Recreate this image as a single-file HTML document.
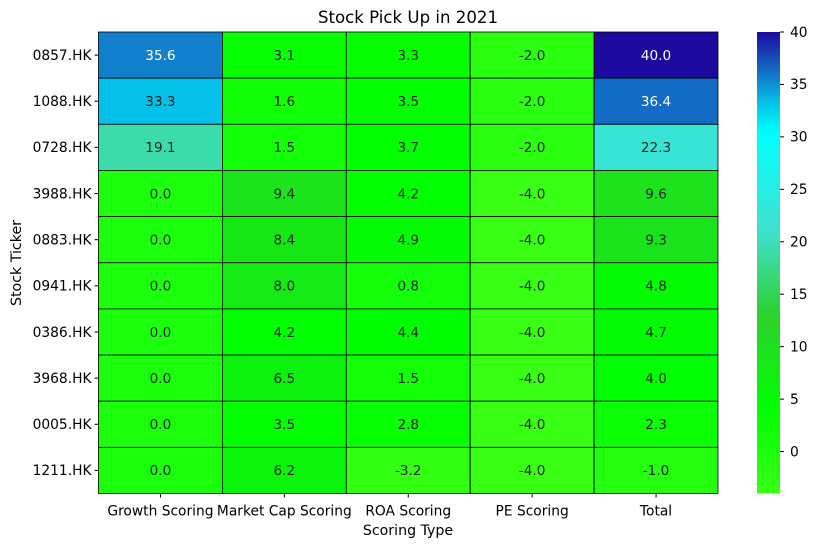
<!DOCTYPE html>
<html><head><meta charset="utf-8"><style>
body{margin:0;background:#fff;font-family:"DejaVu Sans","Liberation Sans",sans-serif;}
svg text{font-family:"DejaVu Sans","Liberation Sans",sans-serif;}
</style></head><body>
<svg id="chart" width="817" height="547" xmlns="http://www.w3.org/2000/svg">
<defs><linearGradient id="cbg" x1="0" y1="1" x2="0" y2="0"></linearGradient></defs>
<text x="408" y="23" text-anchor="middle" font-size="16.6">Stock Pick Up in 2021</text>
<text x="408" y="535" text-anchor="middle" font-size="14.2">Scoring Type</text>
<text transform="translate(21,263) rotate(-90)" text-anchor="middle" font-size="14.2">Stock Ticker</text>
<g id="cells"></g><g id="cbar"></g>
</svg>
<script>
const tickers=["0857.HK","1088.HK","0728.HK","3988.HK","0883.HK","0941.HK","0386.HK","3968.HK","0005.HK","1211.HK"];
const columns=["Growth Scoring","Market Cap Scoring","ROA Scoring","PE Scoring","Total"];
const growth=[35.6,33.3,19.1,0,0,0,0,0,0,0];
const marketCap=[3.1,1.6,1.5,9.4,8.4,8.0,4.2,6.5,3.5,6.2];
const roa=[3.3,3.5,3.7,4.2,4.9,0.8,4.4,1.5,2.8,-3.2];
const pe=[-2,-2,-2,-4,-4,-4,-4,-4,-4,-4];
const total=[40.0,36.4,22.3,9.6,9.3,4.8,4.7,4.0,2.3,-1.0];
const cbTicks=[0,5,10,15,20,25,30,35,40];
const vmin=-4,vmax=40;
const series=[growth,marketCap,roa,pe,total];
const stops=[[-4,[56,255,20]],[0,[28,255,12]],[4,[0,255,0]],[13,[46,208,46]],[21,[64,224,208]],[30.5,[0,255,255]],[33.3,[5,192,232]],[35.6,[16,128,204]],[40,[28,10,158]]];
function color(v){v=Math.max(vmin,Math.min(vmax,v));for(let i=0;i<stops.length-1;i++){const a=stops[i],b=stops[i+1];if(v<=b[0]){const t=(v-a[0])/(b[0]-a[0]);const c=a[1].map((x,k)=>Math.round(x+(b[1][k]-x)*t));return`rgb(${c})`;}}return`rgb(${stops[stops.length-1][1]})`;}
const L=98.5,T=32,W=619.5,H=461.5,cw=W/columns.length,rh=H/tickers.length;
const ns="http://www.w3.org/2000/svg";
function mk(tag,attrs,parent){const e=document.createElementNS(ns,tag);for(const k in attrs)e.setAttribute(k,attrs[k]);parent.appendChild(e);return e;}
const g=document.getElementById('cells');
series.forEach((col,c)=>{col.forEach((v,r)=>{
 const x=L+c*cw,y=T+r*rh;
 const rect=mk('rect',{x:x,y:y,width:cw,height:rh,fill:color(v),stroke:'#000','stroke-width':0.8},g);
 
 
 const t=mk('text',{x:x+cw/2,y:y+rh/2+4.8,'text-anchor':'middle','font-size':13.6,fill:v>35?'#fff':'#262626'},g);
 t.textContent=v.toFixed(1);
 
 
});});
tickers.forEach((tk,r)=>{const y=T+(r+0.5)*rh;
 mk('line',{x1:L-4,x2:L,y1:y,y2:y,stroke:'#000'},g);
 const t=mk('text',{x:L-7,y:y+4.8,'text-anchor':'end','font-size':13.8},g);t.textContent=tk;
 
 });
columns.forEach((cn,c)=>{const x=L+(c+0.5)*cw;
 mk('line',{x1:x,x2:x,y1:T+H,y2:T+H+4,stroke:'#000'},g);
 const t=mk('text',{x:x,y:T+H+22,'text-anchor':'middle','font-size':13.8},g);t.textContent=cn;
 
 });
const grad=document.getElementById('cbg');
for(let i=0;i<=40;i++){const v=vmin+(vmax-vmin)*i/40;mk('stop',{offset:(i/40),'stop-color':color(v)},grad);}
const cb=document.getElementById('cbar');
const cx=757,cwid=23;
const cbr=mk('rect',{x:cx,y:T,width:cwid,height:H,fill:'url(#cbg)'},cb);


cbTicks.forEach(v=>{const y=T+H-(v-vmin)/(vmax-vmin)*H;
 mk('line',{x1:cx+cwid,x2:cx+cwid+4,y1:y,y2:y,stroke:'#000'},cb);
 const t=mk('text',{x:cx+cwid+10,y:y+4.8,'font-size':13.8},cb);t.textContent=v;
 
 });
</script>
</body></html>
